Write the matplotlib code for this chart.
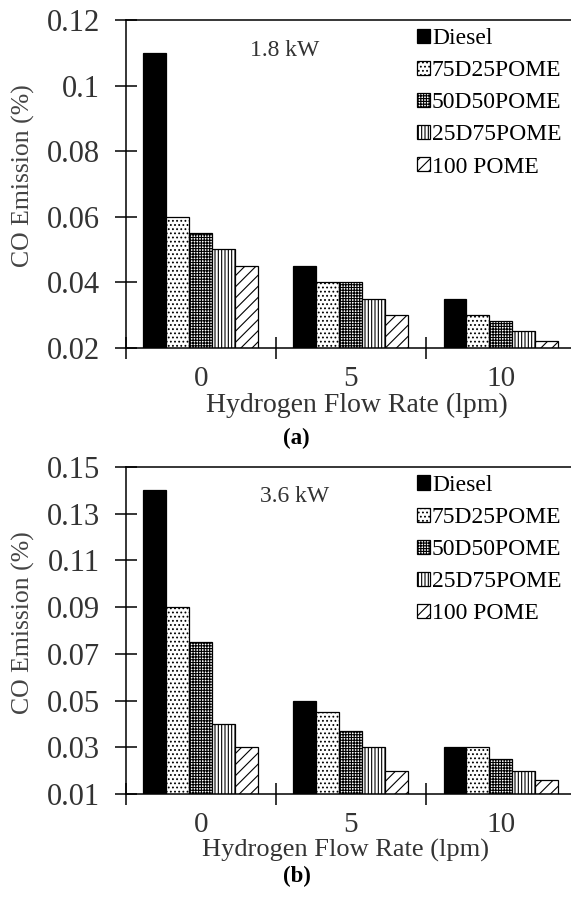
import numpy as np
import matplotlib
matplotlib.use('Agg')
import matplotlib.pyplot as plt
from matplotlib.ticker import FuncFormatter

plt.rcParams['font.family'] = ['Liberation Serif', 'DejaVu Serif']
plt.rcParams['hatch.linewidth'] = 0.8

flow_rates = ['0', '5', '10']
fuels = ['Diesel', '75D25POME', '50D50POME', '25D75POME', '100 POME']
hatches = ['', '....', '++++++', '|||||', '///']
faces = ['black', 'white', 'white', 'white', 'white']

# (a) 1.8 kW
diesel_a = [0.11, 0.045, 0.035]
d75_a = [0.06, 0.04, 0.03]
d50_a = [0.055, 0.04, 0.028]
d25_a = [0.05, 0.035, 0.025]
pome_a = [0.045, 0.03, 0.022]

# (b) 3.6 kW
diesel_b = [0.14, 0.05, 0.03]
d75_b = [0.09, 0.045, 0.03]
d50_b = [0.075, 0.037, 0.025]
d25_b = [0.04, 0.03, 0.02]
pome_b = [0.03, 0.02, 0.016]

yticks_a = [0.02, 0.04, 0.06, 0.08, 0.1, 0.12]
yticks_b = [0.01, 0.03, 0.05, 0.07, 0.09, 0.11, 0.13, 0.15]

txt = '#333333'


def panel(ax, series, yticks, power, power_x, tag, tag_y, xlab_x, xlab_y, xlab_size):
    x = np.arange(len(flow_rates))
    w = 0.153
    for i, vals in enumerate(series):
        ax.bar(x + (i - 2) * w, vals, w, color=faces[i], edgecolor='black',
               hatch=hatches[i], linewidth=0.9, label=fuels[i])
    ax.set_xlim(-0.5, 2.5)
    ax.set_ylim(yticks[0], yticks[-1])
    ax.set_yticks(yticks)
    ax.yaxis.set_major_formatter(FuncFormatter(lambda v, p: '{:g}'.format(round(v, 3))))
    ax.set_xticks([-0.5, 0.5, 1.5, 2.5])
    ax.set_xticklabels([])
    ax.set_xticks(x, minor=True)
    ax.set_xticklabels(flow_rates, minor=True)
    ax.tick_params(axis='y', direction='inout', length=15.5, width=1.1,
                   labelsize=22, pad=11, labelcolor=txt)
    ax.tick_params(axis='x', which='major', direction='inout', length=15.5, width=1.1)
    ax.tick_params(axis='x', which='minor', length=0, labelsize=21, pad=13, labelcolor=txt)
    ax.spines['right'].set_visible(False)
    for s in ['left', 'bottom', 'top']:
        ax.spines[s].set_linewidth(1.1)
    ax.text(power_x, 0.908, power, transform=ax.transAxes, ha='center', va='center',
            fontsize=17, color=txt)
    ax.text(xlab_x, xlab_y, 'Hydrogen Flow Rate (lpm)', transform=ax.transAxes,
            ha='center', va='center', fontsize=xlab_size, color=txt)
    ax.text(-0.228, 0.525, 'CO Emission (%)', transform=ax.transAxes, rotation=90,
            ha='center', va='center', fontsize=18.5, color='#444444')
    ax.text(0.38, tag_y, tag, transform=ax.transAxes, ha='center', va='center',
            fontsize=16.5, fontweight='bold')
    ax.legend(loc='upper left', bbox_to_anchor=(0.646, 0.975), frameon=False,
              fontsize=17, borderpad=0, borderaxespad=0, handlelength=0.55,
              handleheight=0.55, handletextpad=0.1, labelspacing=0.47, labelcolor='black')


fig = plt.figure(figsize=(5.71, 8.97), dpi=100)
ax1 = fig.add_axes([0.2201, 0.6124, 0.7886, 0.3653])
ax2 = fig.add_axes([0.2201, 0.1145, 0.7886, 0.3652])

panel(ax1, [diesel_a, d75_a, d50_a, d25_a, pome_a], yticks_a, '1.8 kW', 0.354,
      '(a)', -0.278, 0.514, -0.175, 20)
panel(ax2, [diesel_b, d75_b, d50_b, d25_b, pome_b], yticks_b, '3.6 kW', 0.375,
      '(b)', -0.25, 0.488, -0.172, 19)

fig.savefig('out.png', dpi=100)
